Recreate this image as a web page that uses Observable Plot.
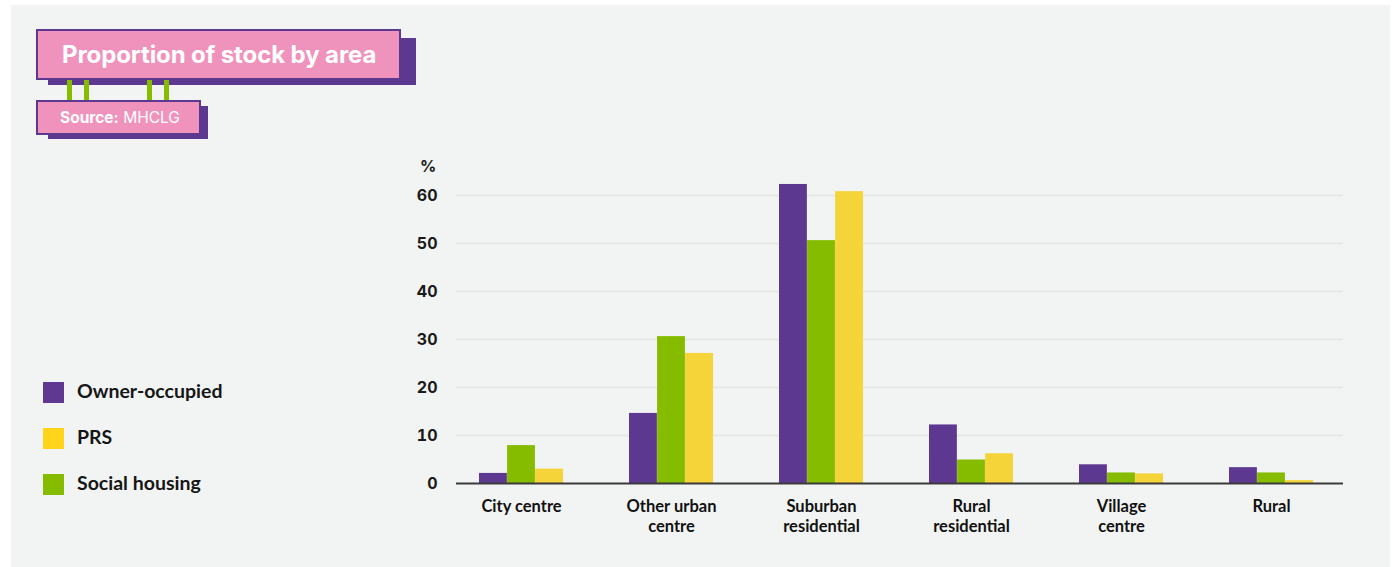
<!DOCTYPE html>
<html>
<head>
<meta charset="utf-8">
<script src="https://cdn.jsdelivr.net/npm/d3@7"></script>
<script src="https://cdn.jsdelivr.net/npm/@observablehq/plot@0.6"></script>
<style>
  html, body { margin: 0; padding: 0; background: #ffffff; }
  body { width: 1395px; height: 567px; position: relative; overflow: hidden; }
  #panel { position: absolute; left: 11px; top: 5px; width: 1379px; height: 570px; background: #f2f4f3; }
  #chart { position: absolute; left: 0; top: 0; }
  .shadow { position: absolute; background: #5d3891; }
  .box { position: absolute; background: #f093bc; border: 2px solid #5d3891; box-sizing: border-box; color: #fff; white-space: nowrap; }
  .post { position: absolute; background: #86bc00; width: 5px; }
  #title { left: 36px; top: 29px; width: 365px; height: 51px; font: 700 24px Inter, "Noto Sans", sans-serif; line-height: 48px; padding-left: 24px; letter-spacing: -0.1px; }
  #source { left: 36px; top: 100px; width: 165px; height: 35px; font: 400 15.5px Inter, "Noto Sans", sans-serif; line-height: 32px; padding-left: 22px; }
  #source b { font-weight: 700; }
  .legend { position: absolute; left: 43px; font: 700 19.5px Lato, sans-serif; color: #161616; }
  .legend span { display: inline-block; width: 21px; height: 21px; vertical-align: middle; margin-right: 13px; position: relative; top: -1px; }
  .legend div { height: 46px; line-height: 21px; }
  #pct { position: absolute; left: 420px; top: 156px; font: 700 16px Inter, sans-serif; color: #1a1a1a; }
</style>
</head>
<body>
<div id="panel"></div>
<div id="chart"></div>
<div class="shadow" style="left:48px;top:38px;width:368px;height:47px"></div>
<div class="box" id="title">Proportion of stock by area</div>
<div class="post" style="left:67px;top:80px;height:20px"></div>
<div class="post" style="left:84px;top:80px;height:20px"></div>
<div class="post" style="left:147px;top:80px;height:20px"></div>
<div class="post" style="left:164px;top:80px;height:20px"></div>
<div class="shadow" style="left:48px;top:106px;width:160px;height:33px"></div>
<div class="box" id="source"><b>Source:</b> MHCLG</div>
<div id="pct">%</div>
<div class="legend" id="legend" style="top:380px"></div>
<script>
// ---- data ----
const categories = ["City centre", "Other urban centre", "Suburban residential", "Rural residential", "Village centre", "Rural"];
const tickLabels = ["City centre", "Other urban\ncentre", "Suburban\nresidential", "Rural\nresidential", "Village\ncentre", "Rural"];
const ownerOccupied = [2.1, 14.6, 62.3, 12.2, 3.9, 3.3];
const socialHousing = [7.9, 30.6, 50.6, 4.9, 2.2, 2.2];
const prs = [3.0, 27.1, 60.8, 6.2, 2.0, 0.6];
const yTicks = [0, 10, 20, 30, 40, 50, 60];

const seriesNames = ["Owner-occupied", "Social housing", "PRS"];
const seriesValues = [ownerOccupied, socialHousing, prs];
const barColors = ["#5d3891", "#86bc00", "#f5d43a"];
const legendOrder = ["Owner-occupied", "PRS", "Social housing"];
const legendColors = {"Owner-occupied": "#5e3891", "PRS": "#ffd41a", "Social housing": "#86bc00"};

// ---- legend ----
const leg = document.getElementById("legend");
legendOrder.forEach(n => {
  const d = document.createElement("div");
  const s = document.createElement("span");
  s.style.background = legendColors[n];
  d.appendChild(s);
  d.appendChild(document.createTextNode(n));
  leg.appendChild(d);
});

// ---- chart ----
const rows = seriesNames.map((s, i) => categories.map((c, j) => ({category: c, series: s, value: seriesValues[i][j]})));

const bw = 84.2;
const barMarks = rows.map((data, i) => Plot.barY(data, {
  x: "category", y: "value", fill: barColors[i],
  insetLeft: i * bw / 3, insetRight: (2 - i) * bw / 3
}));

const chart = Plot.plot({
  width: 1395,
  height: 567,
  marginLeft: 456,
  marginRight: 52,
  marginTop: 195,
  marginBottom: 84,
  style: {background: "transparent", overflow: "visible"},
  x: {type: "band", domain: categories, paddingInner: 0.44, paddingOuter: 0.169, align: 0.43},
  y: {domain: [0, 60]},
  marks: [
    Plot.ruleY(yTicks.filter(d => d > 0), {stroke: "#e6e7e6", strokeWidth: 2}),
    ...barMarks,
    Plot.ruleY([0], {stroke: "#3a3a3a", strokeWidth: 2}),
    Plot.axisY({ticks: yTicks, tickSize: 0, tickPadding: 19, label: null,
      fontSize: 16, fontWeight: 700, fill: "#1a1a1a", fontFamily: "Inter, sans-serif"}),
    Plot.axisX({tickSize: 0, tickPadding: 15, label: null,
      tickFormat: d => tickLabels[categories.indexOf(d)],
      fontSize: 16.5, fontWeight: 700, fill: "#111", fontFamily: "Lato, sans-serif", lineHeight: 1.18})
  ]
});
document.getElementById("chart").appendChild(chart);
</script>
</body>
</html>
